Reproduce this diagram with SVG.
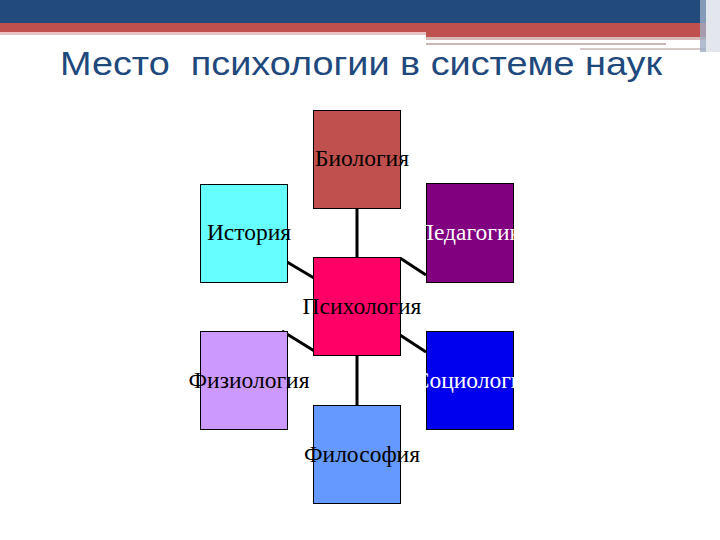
<svg xmlns="http://www.w3.org/2000/svg" width="720" height="540" viewBox="0 0 720 540">
<style>
.box{stroke:#000;stroke-width:1}
.lbl{font-family:"Liberation Serif","Times New Roman",serif;font-size:23.5px;text-anchor:middle}
.dark{fill:#000}
.light{fill:#fff}
.conn{stroke:#000;stroke-width:3;fill:none}
.title{font-family:"Liberation Sans",Arial,sans-serif;font-size:34px;fill:#1F497D}
</style>
<rect width="720" height="540" fill="#fff"/>
<g id="header">
<rect x="0" y="0" width="720" height="24" fill="#224A7B"/>
<rect x="0" y="23" width="720" height="9" fill="#C0504D"/>
<rect x="0" y="32" width="426" height="3" fill="#E6C3C2"/>
<rect x="426" y="32" width="294" height="5" fill="#C0504D"/>
<rect x="426" y="37" width="280" height="3" fill="#D9B8B8"/>
<rect x="426" y="43" width="240" height="2" fill="#CBB5B5"/>
<rect x="580" y="48" width="127" height="2" fill="#D8C8C8"/>
<rect x="700" y="0" width="20" height="52" fill="#9DAEC6" opacity="0.8"/>
<rect x="706" y="0" width="14" height="52" fill="#E3E6EC"/>
</g>
<text class="title" x="60" y="75" textLength="602" lengthAdjust="spacingAndGlyphs" xml:space="preserve">Место  психологии в системе наук</text>
<g id="connectors">
<line class="conn" x1="357" y1="208" x2="357" y2="258"/>
<line class="conn" x1="357" y1="355" x2="357" y2="405"/>
<line class="conn" x1="287" y1="262" x2="314" y2="278"/>
<line class="conn" x1="400" y1="258" x2="426" y2="275"/>
<line class="conn" x1="282" y1="331" x2="316" y2="352"/>
<line class="conn" x1="400" y1="335" x2="426" y2="352"/>
</g>
<g id="biology"><rect class="box" x="313.5" y="110.5" width="87" height="98" fill="#C0504D"/><text class="lbl dark" x="362" y="166">Биология</text></g>
<g id="history"><rect class="box" x="200.5" y="184.5" width="87" height="98" fill="#66FFFF"/><text class="lbl dark" x="249" y="240">История</text></g>
<g id="pedagogy"><rect class="box" x="426.5" y="183.5" width="87" height="99" fill="#800080"/><text class="lbl light" x="474" y="240">Педагогика</text></g>
<g id="psychology"><rect class="box" x="313.5" y="257.5" width="87" height="98" fill="#FF0066"/><text class="lbl dark" x="362" y="314">Психология</text></g>
<g id="physiology"><rect class="box" x="200.5" y="331.5" width="87" height="98" fill="#CC99FF"/><text class="lbl dark" x="249" y="388">Физиология</text></g>
<g id="sociology"><rect class="box" x="426.5" y="331.5" width="87" height="98" fill="#0000EE"/><text class="lbl light" x="474" y="388">Социология</text></g>
<g id="philosophy"><rect class="box" x="313.5" y="405.5" width="87" height="98" fill="#6699FF"/><text class="lbl dark" x="362" y="462">Философия</text></g>
</svg>
